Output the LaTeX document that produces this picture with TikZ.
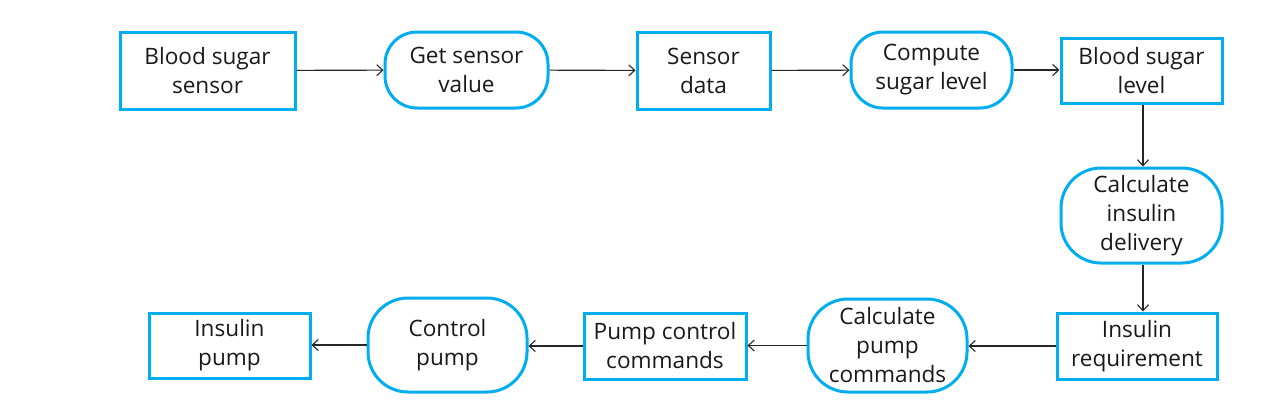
\documentclass[tikz,border=0pt]{standalone}
\usepackage{fontspec}
\setmainfont{Open Sans}
\usepackage{tikz}
\usetikzlibrary{arrows.meta}
\definecolor{boxblue}{RGB}{0,174,239}

\begin{document}
\begin{tikzpicture}[x=0.5pt,y=-0.5pt,
	datastore/.style={draw=boxblue, line width=1.5pt, align=center, font=\fontsize{11.3}{14.5}\selectfont, text=black!90, inner sep=0pt},
	process/.style={datastore, rounded corners=16pt},
	flow/.style={-{Straight Barb[length=3pt,width=5.5pt]}, line width=0.55pt, black!85}]
			\useasboundingbox (0,0) rectangle (1284,403);
			
			% top row
			\node[datastore, minimum width=87.5pt, minimum height=38.5pt] (sensor) at (207.5,70.5) {Blood sugar\\sensor};
			\node[process, minimum width=81.5pt, minimum height=38pt] (getvalue) at (466.5,70) {Get sensor\\value};
			\node[datastore, minimum width=66.5pt, minimum height=38.5pt] (sensordata) at (703.5,70.5) {Sensor\\data};
			\node[process, minimum width=80.5pt, minimum height=38pt] (compute) at (931.5,70) {Compute\\sugar level};
			\node[datastore, minimum width=80.5pt, minimum height=32.5pt] (sugarlevel) at (1141.5,70.5) {Blood sugar\\level};
			
			% right column
			\node[process, rounded corners=20pt, minimum width=80.5pt, minimum height=47.5pt] (delivery) at (1141.5,215.5) {Calculate\\insulin\\delivery};
			\node[datastore, minimum width=80pt, minimum height=33pt] (requirement) at (1137,346) {Insulin\\requirement};
			
			% bottom row
			\node[process, rounded corners=20pt, minimum width=79.5pt, minimum height=46.5pt] (pumpcmds) at (887.5,345.5) {Calculate\\pump\\commands};
			\node[datastore, minimum width=81pt, minimum height=33pt] (controlcmds) at (665,346) {Pump control\\commands};
			\node[process, rounded corners=20pt, minimum width=79.5pt, minimum height=47pt] (control) at (447.5,345) {Control\\pump};
			\node[datastore, minimum width=80.5pt, minimum height=32.5pt] (pump) at (229.5,345.5) {Insulin\\pump};
			
			\draw[flow] (sensor) -- (getvalue);
			\draw[flow] (getvalue) -- (sensordata);
			\draw[flow] (sensordata) -- (compute);
			\draw[flow] (compute) -- (compute -| sugarlevel.west);
			\draw[flow] (sugarlevel.south -| 1143,0) -- (delivery.north -| 1143,0);
			\draw[flow] (delivery.south -| 1143,0) -- (requirement.north -| 1143,0);
			\draw[flow] (requirement) -- (requirement -| pumpcmds.east);
			\draw[flow] (pumpcmds) -- (pumpcmds -| controlcmds.east);
			\draw[flow] (controlcmds) -- (controlcmds -| control.east);
			\draw[flow] (control) -- (control -| pump.east);
		\end{tikzpicture}
\end{document}
